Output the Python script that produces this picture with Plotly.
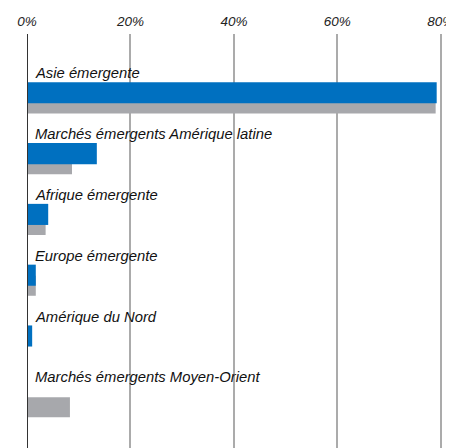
import plotly.graph_objects as go

categories = ["Asie émergente", "Marchés émergents Amérique latine", "Afrique émergente",
              "Europe émergente", "Amérique du Nord", "Marchés émergents Moyen-Orient"]
serie_bleue = [79.2, 13.5, 4.1, 1.7, 1.0, 0.0]
serie_grise = [79.0, 8.7, 3.6, 1.7, 0.0, 8.3]
tick_vals = [0, 20, 40, 60, 80]
tick_text = ["0%", "20%", "40%", "60%", "80%"]

FONT = "Liberation Sans, Arial, sans-serif"
BLUE = "#0070C0"
GREY = "#A7A8AC"

fig = go.Figure()
fig.add_trace(go.Bar(y=categories, x=serie_grise, orientation="h", marker_color=GREY,
                     marker_line_width=0, offset=-0.074, width=0.33, hoverinfo="x"))
fig.add_trace(go.Bar(y=categories, x=serie_bleue, orientation="h", marker_color=BLUE,
                     marker_line_width=0, offset=-0.256, width=0.347, hoverinfo="x"))

for c in categories:
    fig.add_annotation(x=0, y=c, xref="x", yref="y", text=c, showarrow=False,
                       xanchor="left", yanchor="middle", xshift=6, yshift=24.5,
                       font=dict(family=FONT, size=14.8, color="#111111", style="italic"))

fig.update_layout(
    width=446, height=440,
    margin=dict(l=19, r=8, t=26, b=0),
    barmode="overlay",
    showlegend=False,
    plot_bgcolor="white", paper_bgcolor="white",
    xaxis=dict(side="top", range=[0, 81], tickvals=tick_vals, ticktext=tick_text,
               showgrid=True, gridcolor="#ABABAB", gridwidth=2,
               zeroline=False, showline=False, ticks="", automargin=False,
               ticklabeloverflow="allow", ticklabelstandoff=4,
               tickfont=dict(family=FONT, size=13.5, color="#222222", style="italic")),
    yaxis=dict(type="category", categoryorder="array", categoryarray=categories,
               range=[5.76, -1.05], showticklabels=False, showgrid=False,
               zeroline=False, showline=False, ticks="", automargin=False),
    shapes=[dict(type="line", xref="x", yref="paper", x0=0, x1=0, y0=0, y1=1,
                 line=dict(color="#333333", width=2))],
)
fig.write_html("out.html")
